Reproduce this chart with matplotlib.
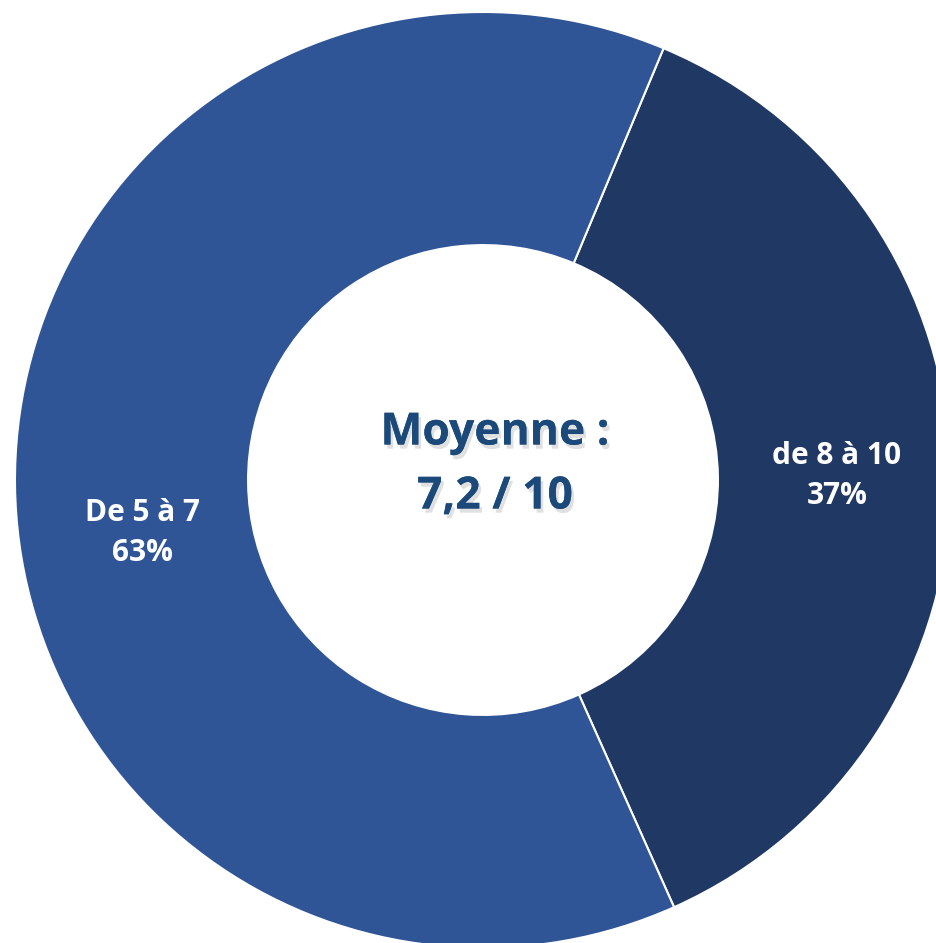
import matplotlib
matplotlib.use("Agg")
import matplotlib.pyplot as plt
import matplotlib.patheffects as pe
import numpy as np

categories = ["de 8 à 10", "De 5 à 7"]
values = [37, 63]
colors = ["#203864", "#2F5597"]
center_title = "Moyenne :"
center_value = "7,2 / 10"

W, H = 937, 943
cx, cy, R = 483, 480, 468  # pixel layout

fig = plt.figure(figsize=(W / 100, H / 100), dpi=100)
ax = fig.add_axes([0, 0, 1, 1])

wedges, _ = ax.pie(values, colors=colors, startangle=67.3, counterclock=False,
                   radius=1.0, wedgeprops=dict(width=0.498, edgecolor="white", linewidth=1.5))
ax.set_xlim(-cx / R, (W - cx) / R)
ax.set_ylim(-(H - cy) / R, cy / R)
ax.set_aspect("equal")
ax.axis("off")

font = "Open Sans"

def px(x, y):
    return ((x - cx) / R, (cy - y) / R)

label_pos = [(837, 476), (142, 533)]
for cat, v, (x, y) in zip(categories, values, label_pos):
    ax.text(*px(x, y), f"{cat}\n{v}%", ha="center", va="center", color="white",
            fontsize=21.5, fontweight="bold", family=font, linespacing=1.45)

shadow = [pe.withSimplePatchShadow(offset=(2, -3), shadow_rgbFace="#999999", alpha=0.3), pe.Normal()]
ax.text(*px(495, 433), center_title, ha="center", va="center", color="#1B4A7A",
        fontsize=32, fontweight="bold", family=font, path_effects=shadow)
ax.text(*px(495, 497), center_value, ha="center", va="center", color="#1B4A7A",
        fontsize=32, fontweight="bold", family=font, path_effects=shadow)

fig.savefig("out.png", dpi=100)
